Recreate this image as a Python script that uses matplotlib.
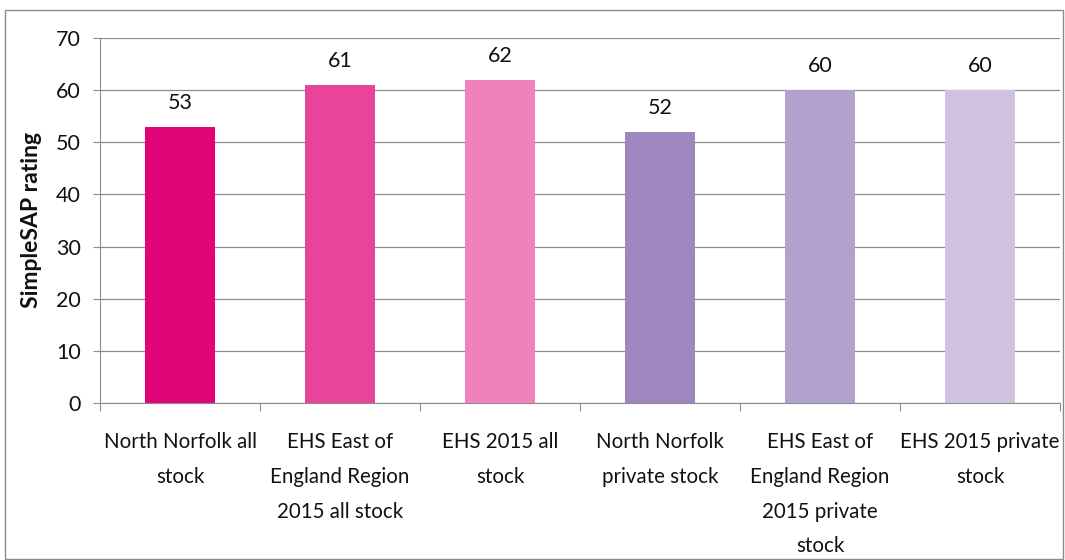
import matplotlib
matplotlib.use("Agg")
import matplotlib.pyplot as plt
from matplotlib.patches import Rectangle

categories = ["North Norfolk all\nstock", "EHS East of\nEngland Region\n2015 all stock",
              "EHS 2015 all\nstock", "North Norfolk\nprivate stock",
              "EHS East of\nEngland Region\n2015 private\nstock", "EHS 2015 private\nstock"]
values = [53, 61, 62, 52, 60, 60]
colors = ["#E0067A", "#E8449A", "#EF82BA", "#9E88BF", "#B3A1CD", "#CFC2DF"]

plt.rcParams['font.family'] = ['Lato', 'DejaVu Sans']

fig = plt.figure(figsize=(10.65, 5.6), dpi=100)
ax = fig.add_axes([100/1065, 1-403/560, 960/1065, 365/560])
x = list(range(len(categories)))
ax.bar(x, values, width=0.44, color=colors, zorder=3)
for xi, v in zip(x, values):
    ax.annotate(str(v), (xi, v), xytext=(0, 10), textcoords="offset points",
                ha="center", va="bottom", fontsize=15.5, color="#111111")

ax.set_xlim(-0.5, len(categories) - 0.5)
ax.set_ylim(0, 70)
ax.set_yticks(range(0, 71, 10))
ax.yaxis.grid(True, color="#8c8c8c", linewidth=0.9, zorder=0)
ax.set_xticks([i + 0.5 for i in range(-1, len(categories))], minor=False)
ax.set_xticklabels([])
ax.set_xticks(x, minor=True)
ax.set_xticklabels(categories, minor=True, fontsize=14.8, color="#111111", linespacing=1.92)
ax.tick_params(axis="x", which="minor", length=0, pad=21)
ax.tick_params(axis="x", which="major", length=6, color="#8c8c8c", direction="out")
ax.tick_params(axis="y", length=5, color="#8c8c8c", labelsize=15.5, labelcolor="#111111", pad=9)
for s in ["top", "right"]:
    ax.spines[s].set_visible(False)
for s in ["left", "bottom"]:
    ax.spines[s].set_color("#8c8c8c")
ax.set_ylabel("SimpleSAP rating", fontsize=16.5, fontweight="bold", color="#111111")
ax.yaxis.set_label_coords(-58/960, 0.5)

fig.patches.append(Rectangle((5/1065, 1/560), 1058/1065, 549/560, transform=fig.transFigure,
                             fill=False, edgecolor="#8c8c8c", linewidth=1))
fig.savefig("out.png", dpi=100)
